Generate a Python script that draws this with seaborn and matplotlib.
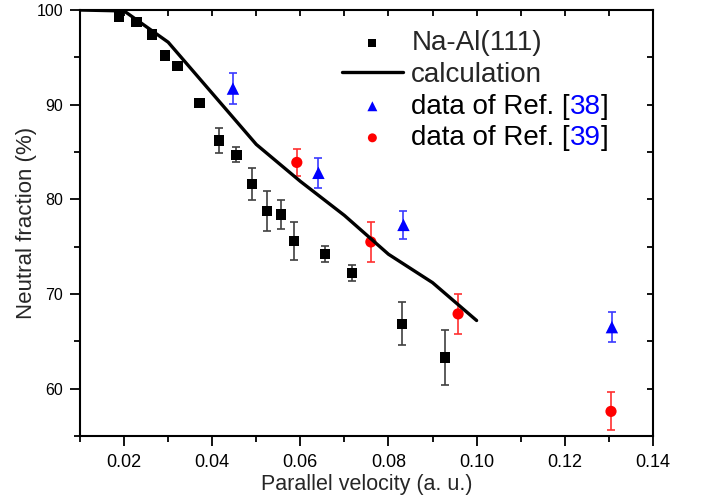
import matplotlib
matplotlib.use("Agg")
import matplotlib.pyplot as plt
import seaborn as sns
import pandas as pd
from matplotlib.offsetbox import TextArea, HPacker
from matplotlib.ticker import MultipleLocator

# measured Na-Al(111)
naal_v = [0.0188, 0.0228, 0.0263, 0.0293, 0.0321, 0.0371, 0.0415, 0.0455,
          0.0491, 0.0524, 0.0556, 0.0586, 0.0656, 0.0718, 0.0830, 0.0928]
naal_f = [99.3, 98.7, 97.4, 95.2, 94.1, 90.2, 86.2, 84.7,
          81.6, 78.8, 78.4, 75.6, 74.2, 72.2, 66.85, 63.3]
naal_err = [0, 0, 0, 0, 0, 0, 1.3, 0.8,
            1.7, 2.1, 1.5, 2.05, 0.86, 0.83, 2.26, 2.95]

# calculation
calc_v = [0.01, 0.02, 0.03, 0.04, 0.05, 0.06, 0.07, 0.08, 0.09, 0.10]
calc_f = [100.0, 99.9, 96.6, 91.2, 85.8, 81.9, 78.3, 74.2, 71.2, 67.2]

# data of Ref. [38]
ref38_v = [0.0447, 0.0641, 0.0834, 0.1307]
ref38_f = [91.7, 82.8, 77.3, 66.5]
ref38_err = [1.6, 1.55, 1.5, 1.6]

# data of Ref. [39]
ref39_v = [0.0592, 0.0760, 0.0958, 0.1305]
ref39_f = [83.9, 75.5, 67.9, 57.6]
ref39_err = [1.46, 2.1, 2.08, 2.0]

sns.set_style("ticks")
plt.rcParams["font.family"] = ["Liberation Sans", "DejaVu Sans"]

fig, ax = plt.subplots(figsize=(7.02, 5.0), dpi=100)
fig.subplots_adjust(left=0.114, right=0.930, bottom=0.128, top=0.98)

df_naal = pd.DataFrame({"v": naal_v, "f": naal_f})
df_calc = pd.DataFrame({"v": calc_v, "f": calc_f})
df_38 = pd.DataFrame({"v": ref38_v, "f": ref38_f})
df_39 = pd.DataFrame({"v": ref39_v, "f": ref39_f})

ax.errorbar(naal_v, naal_f, yerr=naal_err, fmt="none", ecolor="#404040",
            elinewidth=1.2, capsize=3, capthick=1.2, zorder=2)
ax.errorbar(ref38_v, ref38_f, yerr=ref38_err, fmt="none", ecolor="#3a3aff",
            elinewidth=1.2, capsize=3, capthick=1.2, zorder=2)
ax.errorbar(ref39_v, ref39_f, yerr=ref39_err, fmt="none", ecolor="#ff3030",
            elinewidth=1.2, capsize=3, capthick=1.2, zorder=2)

sns.scatterplot(data=df_naal, x="v", y="f", ax=ax, marker="s", s=55,
                color="black", edgecolor="none", label="Na-Al(111)", zorder=3)
sns.lineplot(data=df_calc, x="v", y="f", ax=ax, color="black", linewidth=2.4,
             label="calculation", zorder=4)
sns.scatterplot(data=df_38, x="v", y="f", ax=ax, marker="^", s=80,
                color="#0000ff", edgecolor="none", label="data of Ref. [38]", zorder=3)
sns.scatterplot(data=df_39, x="v", y="f", ax=ax, marker="o", s=65,
                color="#ff0000", edgecolor="none", label="data of Ref. [39]", zorder=3)

ax.set_xlim(0.01, 0.14)
ax.set_ylim(55, 100)
ax.xaxis.set_major_locator(MultipleLocator(0.02))
ax.xaxis.set_minor_locator(MultipleLocator(0.01))
ax.yaxis.set_major_locator(MultipleLocator(10))
ax.yaxis.set_minor_locator(MultipleLocator(5))
ax.xaxis.set_major_formatter(plt.FuncFormatter(lambda v, p: f"{v:.2f}"))

for sp in ax.spines.values():
    sp.set_linewidth(1.5)
    sp.set_color("black")

ax.tick_params(which="both", bottom=True, left=True, top=True, right=True,
               direction="out", width=1.3, colors="black")
ax.tick_params(which="major", length=7)
ax.tick_params(which="minor", length=4)
ax.tick_params(axis="x", which="both", top=True, labeltop=False)
ax.tick_params(axis="y", which="both", right=True, labelright=False)
ax.tick_params(axis="x", labelsize=13, pad=6)
ax.tick_params(axis="y", labelsize=11.5, pad=5)
# mirrored ticks point inward, as in the original plot
for t in ax.xaxis.get_major_ticks() + ax.xaxis.get_minor_ticks():
    t.tick2line.set_marker(matplotlib.lines.TICKDOWN)
    t.tick2line.set_markersize(4)
for t in ax.yaxis.get_major_ticks() + ax.yaxis.get_minor_ticks():
    t.tick2line.set_marker(matplotlib.lines.TICKLEFT)
    t.tick2line.set_markersize(4)

ax.set_xlabel("Parallel velocity (a. u.)", fontsize=15.5, labelpad=2)
ax.set_ylabel("Neutral fraction (%)", fontsize=16, labelpad=0)

leg = ax.legend(loc="upper left", bbox_to_anchor=(0.457, 0.952), frameon=False,
                fontsize=20, handlelength=2.2, handletextpad=0.3,
                labelspacing=0.2, borderpad=0, borderaxespad=0, markerscale=0.8)

# colour the reference numbers blue inside the legend labels
rows = leg._legend_handle_box.get_children()[0].get_children()
for row in rows:
    box = row.get_children()[1]
    txt = box._text.get_text()
    if "[" in txt:
        pre, rest = txt.split("[")
        num = rest.rstrip("]")
        props = dict(fontproperties=leg.prop, verticalalignment="baseline",
                     horizontalalignment="left")
        parts = [TextArea(pre + "[", textprops=dict(color="black", **props)),
                 TextArea(num, textprops=dict(color="#0000ff", **props)),
                 TextArea("]", textprops=dict(color="black", **props))]
        packed = HPacker(children=parts, pad=0, sep=0, align="baseline")
        packed.set_figure(fig)
        for p in parts:
            p.set_figure(fig)
            p._text.set_figure(fig)
        row._children[1] = packed

fig.savefig("out.png", dpi=100)
